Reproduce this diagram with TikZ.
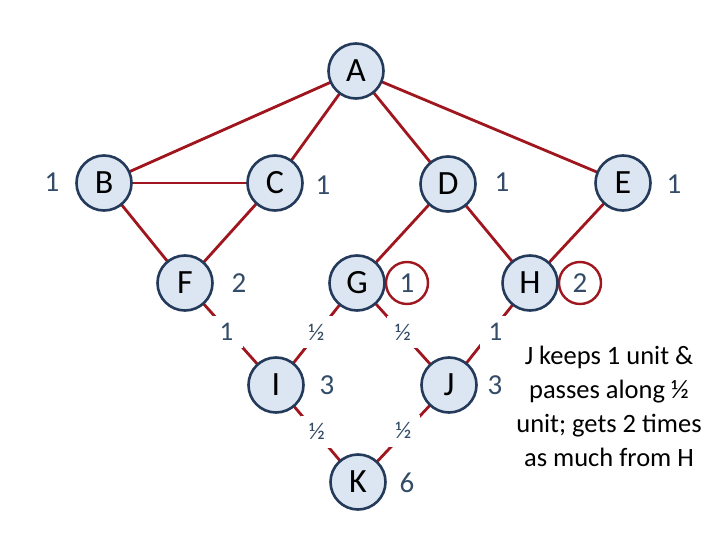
\documentclass[tikz,border=0pt]{standalone}
\usepackage{fontspec}
\setmainfont{Carlito}
\definecolor{edgered}{RGB}{160,22,30}
\definecolor{nodeborder}{RGB}{36,58,90}
\definecolor{nodefill}{RGB}{220,230,242}
\definecolor{numblue}{RGB}{52,76,104}
\tikzset{
  vtx/.style={circle, draw=nodeborder, fill=nodefill, line width=2.6pt, minimum size=55pt, inner sep=0pt, font=\fontsize{34}{36}\selectfont},
  num/.style={text=numblue, font=\fontsize{29}{31}\selectfont, inner sep=0pt},
  hl/.style={circle, draw=edgered, line width=2.4pt, minimum size=42pt, inner sep=0pt},
  edg/.style={draw=edgered, line width=2.8pt},
  wlab/.style={fill=white, text=numblue, inner sep=0pt, minimum size=32pt, font=\fontsize{24}{26}\selectfont},
  note/.style={align=center, font=\fontsize{26.5}{34}\selectfont, inner sep=0pt}
}
\begin{document}
\begin{tikzpicture}[x=1pt,y=-1pt]
\useasboundingbox (0,0) rectangle (720,540);
\coordinate (cA) at (356,71);
\coordinate (cB) at (104,183);
\coordinate (cC) at (275,183);
\coordinate (cD) at (448,184);
\coordinate (cE) at (623,183);
\coordinate (cF) at (185,283);
\coordinate (cG) at (357,283);
\coordinate (cH) at (530,283);
\coordinate (cI) at (276,385);
\coordinate (cJ) at (449,385);
\coordinate (cK) at (358,482);
\draw[edg] (cA) -- (cB);
\draw[edg] (cA) -- (cC);
\draw[edg] (cA) -- (cD);
\draw[edg] (cA) -- (cE);
\draw[edg] (cB) -- (cC);
\draw[edg] (cB) -- (cF);
\draw[edg] (cC) -- (cF);
\draw[edg] (cD) -- (cG);
\draw[edg] (cD) -- (cH);
\draw[edg] (cE) -- (cH);
\draw[edg] (cF) -- node[wlab, xshift=-4pt, yshift=2pt, font=\fontsize{27}{29}\selectfont] {1} (cI);
\draw[edg] (cG) -- node[wlab, yshift=2pt] {½} (cI);
\draw[edg] (cG) -- node[wlab, yshift=2pt] {½} (cJ);
\draw[edg] (cH) -- node[wlab, xshift=6pt, yshift=2pt, font=\fontsize{27}{29}\selectfont] {1} (cJ);
\draw[edg] (cI) -- node[wlab, yshift=2pt] {½} (cK);
\draw[edg] (cJ) -- node[wlab, yshift=3pt] {½} (cK);
\node[hl] (hG) at (407,283) {};
\node[hl] (hH) at (580,283) {};
\node[vtx] (A) at (cA) {A};
\node[vtx] (B) at (cB) {B};
\node[vtx] (C) at (cC) {C};
\node[vtx] (D) at (cD) {D};
\node[vtx] (E) at (cE) {E};
\node[vtx] (F) at (cF) {F};
\node[vtx] (G) at (cG) {G};
\node[vtx] (H) at (cH) {H};
\node[vtx] (I) at (cI) {I};
\node[vtx] (J) at (cJ) {J};
\node[vtx] (K) at (cK) {K};
\node[num] (nB) at (52,182) {1};
\node[num] (nC) at (323,185) {1};
\node[num] (nD) at (502,182) {1};
\node[num] (nE) at (674,184) {1};
\node[num] (nF) at (239,283) {2};
\node[num] (nG) at (407,283) {1};
\node[num] (nH) at (580,283) {2};
\node[num] (nI) at (327,385) {3};
\node[num] (nJ) at (495,385) {3};
\node[num] (nK) at (407,483) {6};
\node[note] (note) at (609,406) {J keeps 1 unit \&\\passes along ½\\unit; gets 2 times\\as much from H};
\end{tikzpicture}
\end{document}
